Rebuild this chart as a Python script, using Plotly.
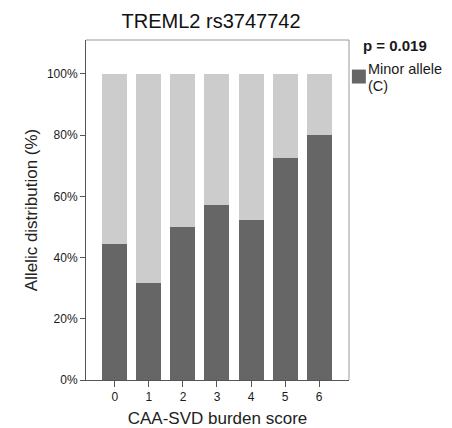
import plotly.graph_objects as go

# CAA-SVD burden score categories and minor allele (C) share per category (%)
scores = ["0", "1", "2", "3", "4", "5", "6"]
minor_pct = [44.4, 31.6, 50.0, 57.1, 52.4, 72.7, 80.0]
major_pct = [100 - v for v in minor_pct]

y_ticks = [0, 20, 40, 60, 80, 100]
y_tick_text = ["0%", "20%", "40%", "60%", "80%", "100%"]

dark = "#666666"
light = "#cccccc"
font = "Liberation Sans, Arial, sans-serif"
ink = "#1a1a1a"

fig = go.Figure()
fig.add_trace(go.Bar(x=scores, y=minor_pct, marker=dict(color=dark, line=dict(width=0)),
                     name="Minor allele (C)", showlegend=False))
fig.add_trace(go.Bar(x=scores, y=major_pct, marker=dict(color=light, line=dict(width=0)),
                     name="Major allele", showlegend=False))

fig.update_layout(
    width=452, height=428,
    margin=dict(l=86, r=103, t=40, b=48),
    barmode="stack",
    bargap=0.265,
    plot_bgcolor="white", paper_bgcolor="white",
    font=dict(family=font, color=ink),
    title=dict(text="TREML2 rs3747742", x=0.467, xanchor="center", y=0.951, yanchor="middle",
               font=dict(size=20, color="#111111")),
    xaxis=dict(
        type="category", range=[-0.85, 6.88], automargin=False,
        showline=True, linecolor="#555555", linewidth=1, mirror=False,
        ticks="outside", ticklen=6, tickcolor="#555555", tickwidth=1,
        tickfont=dict(size=12, color=ink),
        title=dict(text="CAA-SVD burden score", font=dict(size=17, color="#222222"), standoff=9),
        showgrid=False, zeroline=False,
    ),
    yaxis=dict(
        range=[0, 111.1], tickvals=y_ticks, ticktext=y_tick_text, automargin=False,
        showline=True, linecolor="#555555", linewidth=1, mirror=False,
        ticks="outside", ticklen=5, tickcolor="#555555", tickwidth=1,
        tickfont=dict(size=12, color=ink),
        title=dict(text="Allelic distribution (%)", font=dict(size=17, color="#222222"), standoff=4),
        showgrid=False, zeroline=False,
    ),
)

# light frame on top and right of the plot area
fig.add_shape(type="line", xref="paper", yref="paper", x0=0, x1=1, y0=1, y1=1,
              line=dict(color="#999999", width=1))
fig.add_shape(type="line", xref="paper", yref="paper", x0=1, x1=1, y0=0, y1=1,
              line=dict(color="#999999", width=1))

# p-value and legend entry
fig.add_annotation(text="<b>p = 0.019</b>", xref="paper", yref="paper", x=1.045, y=0.985,
                   xanchor="left", yanchor="middle", showarrow=False,
                   font=dict(size=15, color=ink))
fig.add_shape(type="rect", xref="paper", yref="paper", x0=1.011, x1=1.064, y0=0.872, y1=0.913,
              fillcolor=dark, line=dict(width=0))
fig.add_annotation(text="Minor allele", xref="paper", yref="paper", x=1.068, y=0.914,
                   xanchor="left", yanchor="middle", align="left", showarrow=False,
                   font=dict(size=14.5, color=ink), borderpad=0)
fig.add_annotation(text="(C)", xref="paper", yref="paper", x=1.068, y=0.866,
                   xanchor="left", yanchor="middle", align="left", showarrow=False,
                   font=dict(size=14.5, color=ink), borderpad=0)

fig.write_html("out.html")
